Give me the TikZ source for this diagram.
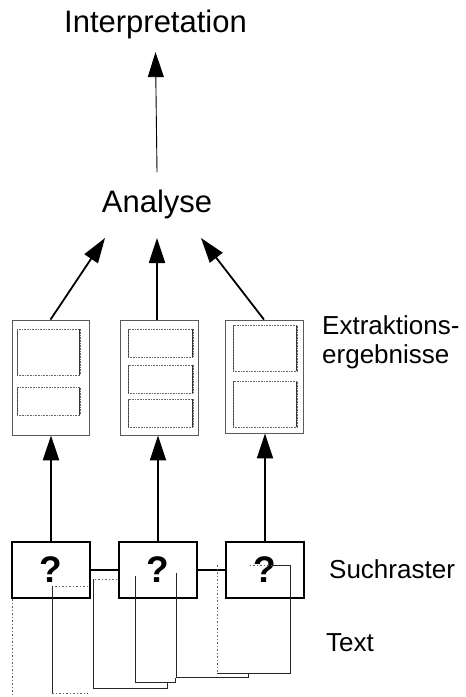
\documentclass[tikz,border=0pt]{standalone}
\usepackage{fontspec}
\setmainfont{Liberation Sans}
\usetikzlibrary{arrows.meta}
\begin{document}
\begin{tikzpicture}[x=1pt,y=-1pt,
  big/.style={font=\fontsize{31}{36}\selectfont, inner sep=0pt, anchor=base},
  side/.style={font=\fontsize{26}{29}\selectfont, inner sep=0pt, anchor=base west, align=left},
  raster/.style={draw, line width=2.6pt, minimum width=78pt, minimum height=56pt,
    inner sep=0pt, font=\bfseries\fontsize{37}{37}\selectfont},
  col/.style={draw=black!65, line width=0.8pt, inner sep=0pt,
    minimum width=#1, minimum height=115pt},
  cell/.style={draw=black!60, line width=0.6pt, densely dotted, inner sep=0pt,
    path picture={\draw[solid, black!80, line width=1.6pt]
      (path picture bounding box.north west) -- (path picture bounding box.south west)
      (path picture bounding box.north east) -- (path picture bounding box.south east);}},
  up/.style={-{Triangle[length=25pt,width=16pt]}, line width=#1},
  up/.default=1.8pt,
  link/.style={line width=2.2pt},
  tl/.style={line width=0.7pt, black!85},
  faint/.style={line width=0.6pt, black!60, dash pattern=on 1.5pt off 2pt},
]
\useasboundingbox (0,0) rectangle (466,697);

% labels
\node[big] (interp) at (155.5,32) {Interpretation};
\node[big] (ana) at (157,212) {Analyse};
\node[side] (extr) at (322,363) {Extraktions-\\ergebnisse};
\node[side] (such) at (329,578) {Suchraster};
\node[side] (txt) at (326,651) {Text};

% extraction results: outer frames
\node[col=77pt] (c1) at (50.5,377.5) {};
\node[col=78pt] (c2) at (159,377.5) {};
\node[col=78pt, minimum height=113pt] (c3) at (264,376.5) {};

% cells inside the frames
\node[cell, minimum width=63pt, minimum height=46pt] (c1a) at (48.5,352) {};
\node[cell, minimum width=63pt, minimum height=28pt] (c1b) at (48.5,401) {};
\node[cell, minimum width=65pt, minimum height=28pt] (c2a) at (160.5,343) {};
\node[cell, minimum width=65pt, minimum height=28pt] (c2b) at (160.5,379) {};
\node[cell, minimum width=65pt, minimum height=28pt] (c2c) at (160.5,413) {};
\node[cell, minimum width=64pt, minimum height=46pt] (c3a) at (265,348) {};
\node[cell, minimum width=64pt, minimum height=46pt] (c3b) at (265,404) {};

% search grid
\node[raster] (s1) at (51,570) {?};
\node[raster] (s2) at (158,570) {?};
\node[raster] (s3) at (265,570) {?};
\draw[link] (s1.east) -- (s2.west);
\draw[link] (s2.east) -- (s3.west);

% grid -> results
\draw[up=2.4pt] (s1.north) -- (s1.north |- c1.south);
\draw[up] (s2.north) -- (s2.north |- c2.south);
\draw[up] (s3.north) -- (s3.north |- c3.south);

% results -> analysis
\coordinate (aL) at (105,238);
\coordinate (aM) at (157,238);
\coordinate (aR) at (201,238);
\draw[up] (c1.north) -- (aL);
\draw[up] (c2.north -| aM) -- (aM);
\draw[up] (c3.north) -- (aR);

% analysis -> interpretation
\draw[up=0.9pt] ([yshift=17pt]ana.north) -- ([yshift=-13.5pt]interp.south);

% spans of the text covered by the grid cells
\draw[faint] (12,599) -- (12,697);
\draw[faint] (88,586) -- (52,586);
\draw[tl] (52,586) -- (52,693);
\draw[faint] (52,693) -- (88,693);
\draw[faint] (117,579) -- (93,579);
\draw[tl] (93,579) -- (93,688) -- (167,688) -- (167,683);
\draw[tl] (135,576) -- (135,682) -- (175,682) -- (175,678);
\draw[tl] (176,573) -- (176,677) -- (248,677) -- (248,673);
\draw[faint] (217,565) -- (217,673);
\draw[tl] (217,673) -- (290,673) -- (290,565) -- (272,565);
\draw[faint] (272,565) -- (248,565);
\end{tikzpicture}
\end{document}
